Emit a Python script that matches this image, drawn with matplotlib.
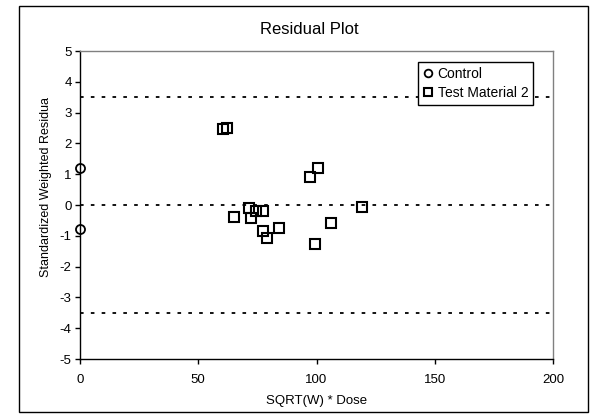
import matplotlib
matplotlib.use("Agg")
import matplotlib.pyplot as plt
from matplotlib.patches import Rectangle

plt.rcParams['font.family'] = ['Liberation Sans', 'DejaVu Sans']
plt.rcParams['axes.unicode_minus'] = False

control_x = [0, 0]
control_y = [1.2, -0.78]

test_x = [60.3, 62.0, 71.5, 74.3, 77.5, 72.2, 65.0, 77.2, 79.1, 84.3,
          97.3, 100.5, 99.2, 106.1, 119.4]
test_y = [2.46, 2.49, -0.11, -0.2, -0.2, -0.43, -0.38, -0.83, -1.08, -0.74,
          0.92, 1.19, -1.27, -0.57, -0.06]

ref_lines = [3.5, 0, -3.5]
x_ticks = [0, 50, 100, 150, 200]
y_ticks = [5, 4, 3, 2, 1, 0, -1, -2, -3, -4, -5]

fig = plt.figure(figsize=(6.08, 4.2), dpi=100)
ax = fig.add_axes([80/608, 61/420, 473/608, 308/420])

for yv in ref_lines:
    ax.axhline(yv, color='black', lw=1.3, linestyle=(0, (2, 4)), zorder=1)

ax.plot(control_x, control_y, linestyle='none', marker='o', markersize=6.5,
        markerfacecolor='none', markeredgecolor='black', markeredgewidth=1.3,
        label='Control', clip_on=False, zorder=3)
ax.plot(test_x, test_y, linestyle='none', marker='s', markersize=6.5,
        markerfacecolor='none', markeredgecolor='black', markeredgewidth=1.5,
        label='Test Material 2', clip_on=False, zorder=3)

ax.set_xlim(0, 200)
ax.set_ylim(-5, 5)
ax.set_xticks(x_ticks)
ax.set_yticks(y_ticks)
ax.tick_params(axis='both', direction='out', length=3.5, width=1, labelsize=9.5)
ax.tick_params(axis='x', pad=7)
ax.tick_params(axis='y', pad=2.5)

ax.spines['left'].set_color('black')
ax.spines['bottom'].set_color('black')
ax.spines['top'].set_color('#808080')
ax.spines['right'].set_color('#808080')
for s in ax.spines.values():
    s.set_linewidth(1)

fig.text(309/608, 1 - 30/420, 'Residual Plot', fontsize=12, ha='center', va='center')
ax.set_xlabel('SQRT(W) * Dose', fontsize=9.5, labelpad=7)
ax.set_ylabel('Standardized Weighted Residua', fontsize=9)
ax.yaxis.set_label_coords((46 - 80) / 473, 0.56)
ax.yaxis.label.set_va('center')

leg = ax.legend(loc='upper right', bbox_to_anchor=(0.958, 0.964), borderaxespad=0,
                fancybox=False, edgecolor='black', fontsize=10, framealpha=1,
                handlelength=0.7, handletextpad=0.35, borderpad=0.35,
                labelspacing=0.35, markerscale=0.85)
leg.get_frame().set_linewidth(1)

fig.patches.append(Rectangle((19/608, 8/420), 569/608, 406/420,
                             transform=fig.transFigure, fill=False,
                             edgecolor='black', lw=1))

fig.savefig('out.png', dpi=100)
